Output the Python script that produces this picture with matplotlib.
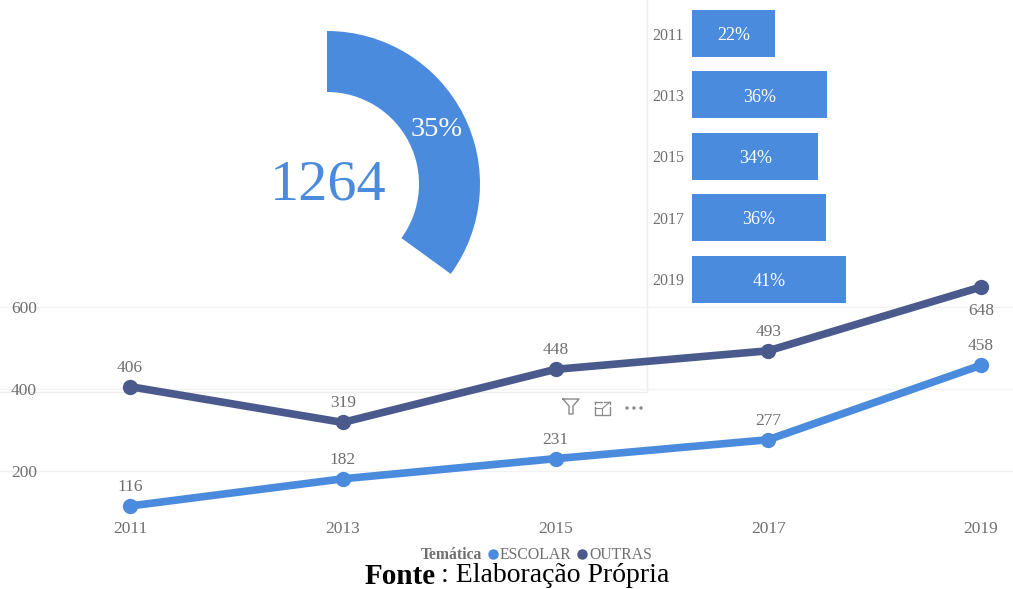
import matplotlib
matplotlib.use("Agg")
import matplotlib.pyplot as plt
from matplotlib.patches import Circle

years = ["2011", "2013", "2015", "2017", "2019"]
escolar = [116, 182, 231, 277, 458]
outras = [406, 319, 448, 493, 648]
y_ticks = [200, 400, 600]
share_values = [22.2, 36.3, 34.0, 36.0, 41.4]
share_labels = ["22%", "36%", "34%", "36%", "41%"]
donut_values = [35, 65]
donut_label = "35%"
donut_total = "1264"

BLUE = "#4A8BDD"
DARK = "#4A5A8C"
GREY = "#6F6F6F"
W, H = 1013, 589
plt.rcParams["font.family"] = ["Liberation Serif", "DejaVu Serif"]
fig = plt.figure(figsize=(W / 100, H / 100), dpi=100, facecolor="white")


def axpx(x0, y0, x1, y1, **kw):
    return fig.add_axes([x0 / W, 1 - y1 / H, (x1 - x0) / W, (y1 - y0) / H], **kw)


# overlay in pixel space for panel borders and icons
ov = axpx(0, 0, W, H)
ov.set_xlim(0, W)
ov.set_ylim(H, 0)
ov.axis("off")
ov.plot([647, 647], [0, 392], color="#EDEDED", lw=1)
ov.plot([0, 647], [392, 392], color="#EDEDED", lw=1)

# line chart
ax = axpx(0, 250, W, 540)
ax.patch.set_alpha(0)
px_per_cat = (981 - 130) / 4
ax.set_xlim(-130 / px_per_cat, (W - 130) / px_per_cat)
scale = (506 - 287) / (648 - 116)
ax.set_ylim(116 - (540 - 506) / scale, 116 + (506 - 250) / scale)
for s in ax.spines.values():
    s.set_visible(False)
ax.tick_params(length=0)
xs = list(range(len(years)))
ax.set_xticks(xs, years, color=GREY, fontsize=12.5)
ax.set_yticks(y_ticks, [str(v) for v in y_ticks], color=GREY, fontsize=12.5)
ax.tick_params(axis="y", direction="in", pad=-8)
ax.tick_params(axis="x", pad=-13.5)
for lab in ax.get_yticklabels():
    lab.set_ha("left")
ax.grid(axis="y", color="#F2F2F2", lw=1)
ax.set_axisbelow(True)
for vals, col in [(outras, DARK), (escolar, BLUE)]:
    ax.plot(xs, vals, color=col, lw=5.5, marker="o", ms=10, solid_capstyle="round", clip_on=False)
for i, v in enumerate(outras):
    off = -23 if i == 4 else 8
    ax.annotate(str(v), (i, v), xytext=(0, off), textcoords="offset points", ha="center",
                va="bottom", color=GREY, fontsize=12.5)
for i, v in enumerate(escolar):
    ax.annotate(str(v), (i, v), xytext=(0, 8), textcoords="offset points", ha="center",
                va="bottom", color=GREY, fontsize=12.5)

# donut
dn = axpx(327 - 153, 184 - 153, 327 + 153, 184 + 153)
dn.pie(donut_values, startangle=90, counterclock=False, radius=1, colors=[BLUE, "none"],
       wedgeprops=dict(width=61 / 153, lw=0))
dn.set_xlim(-1, 1)
dn.set_ylim(-1, 1)
dn.text(0.72, 0.355, donut_label, color="white", fontsize=20.5, ha="center", va="center")
ov.text(328, 185, donut_total, color=BLUE, fontsize=42, ha="center", va="center")

# bars
br = axpx(692, 2.8, 692 + 155, 309.8)
br.patch.set_alpha(0)
ys = list(range(len(years)))
br.barh(ys, share_values, height=0.765, color=BLUE)
br.set_xlim(0, 155 / 3.72)
br.set_ylim(len(years) - 0.5, -0.5)
br.set_yticks(ys, years, color=GREY, fontsize=11.5)
br.set_xticks([])
br.tick_params(length=0, pad=5.8)
for s in br.spines.values():
    s.set_visible(False)
for y, v, l in zip(ys, share_values, share_labels):
    br.text(v / 2, y + 0.035, l, color="white", fontsize=13, ha="center", va="center")

# visual-header icons
ic = "#8A8A8A"
ov.plot([563, 579, 573, 573, 569, 569, 563], [399, 399, 406, 414, 414, 406, 399], color=ic, lw=1)
ov.plot([595, 595, 610, 610], [407, 415, 415, 407], color=ic, lw=1)
ov.plot([595, 602, 602], [408, 408, 415], color=ic, lw=0.8)
ov.plot([595, 595], [402, 404], color=ic, lw=1)
ov.plot([595, 602], [402, 402], color=ic, lw=1)
ov.plot([604, 610, 610], [402, 402, 404], color=ic, lw=1)
ov.plot([603, 610], [408, 402], color=ic, lw=0.8)
for x in (627, 634, 641):
    ov.add_patch(Circle((x, 408), 1, color=ic))

# legend
ov.text(421, 555, "Temática", color=GREY, fontsize=11.3, fontweight="bold", ha="left", va="center")
ov.plot([493], [554], "o", color=BLUE, ms=6.5)
ov.text(500, 555, "ESCOLAR", color=GREY, fontsize=11.3, ha="left", va="center")
ov.plot([582], [554], "o", color=DARK, ms=6.5)
ov.text(589, 555, "OUTRAS", color=GREY, fontsize=11.3, ha="left", va="center")

# source
fig.text(365 / W, 1 - 576 / H, "Fonte", color="black", fontsize=21, fontweight="bold", ha="left", va="center")
fig.text(441 / W, 1 - 576 / H, ": Elaboração Própria", color="black", fontsize=20, ha="left", va="center")

fig.savefig("out.png", dpi=100)
